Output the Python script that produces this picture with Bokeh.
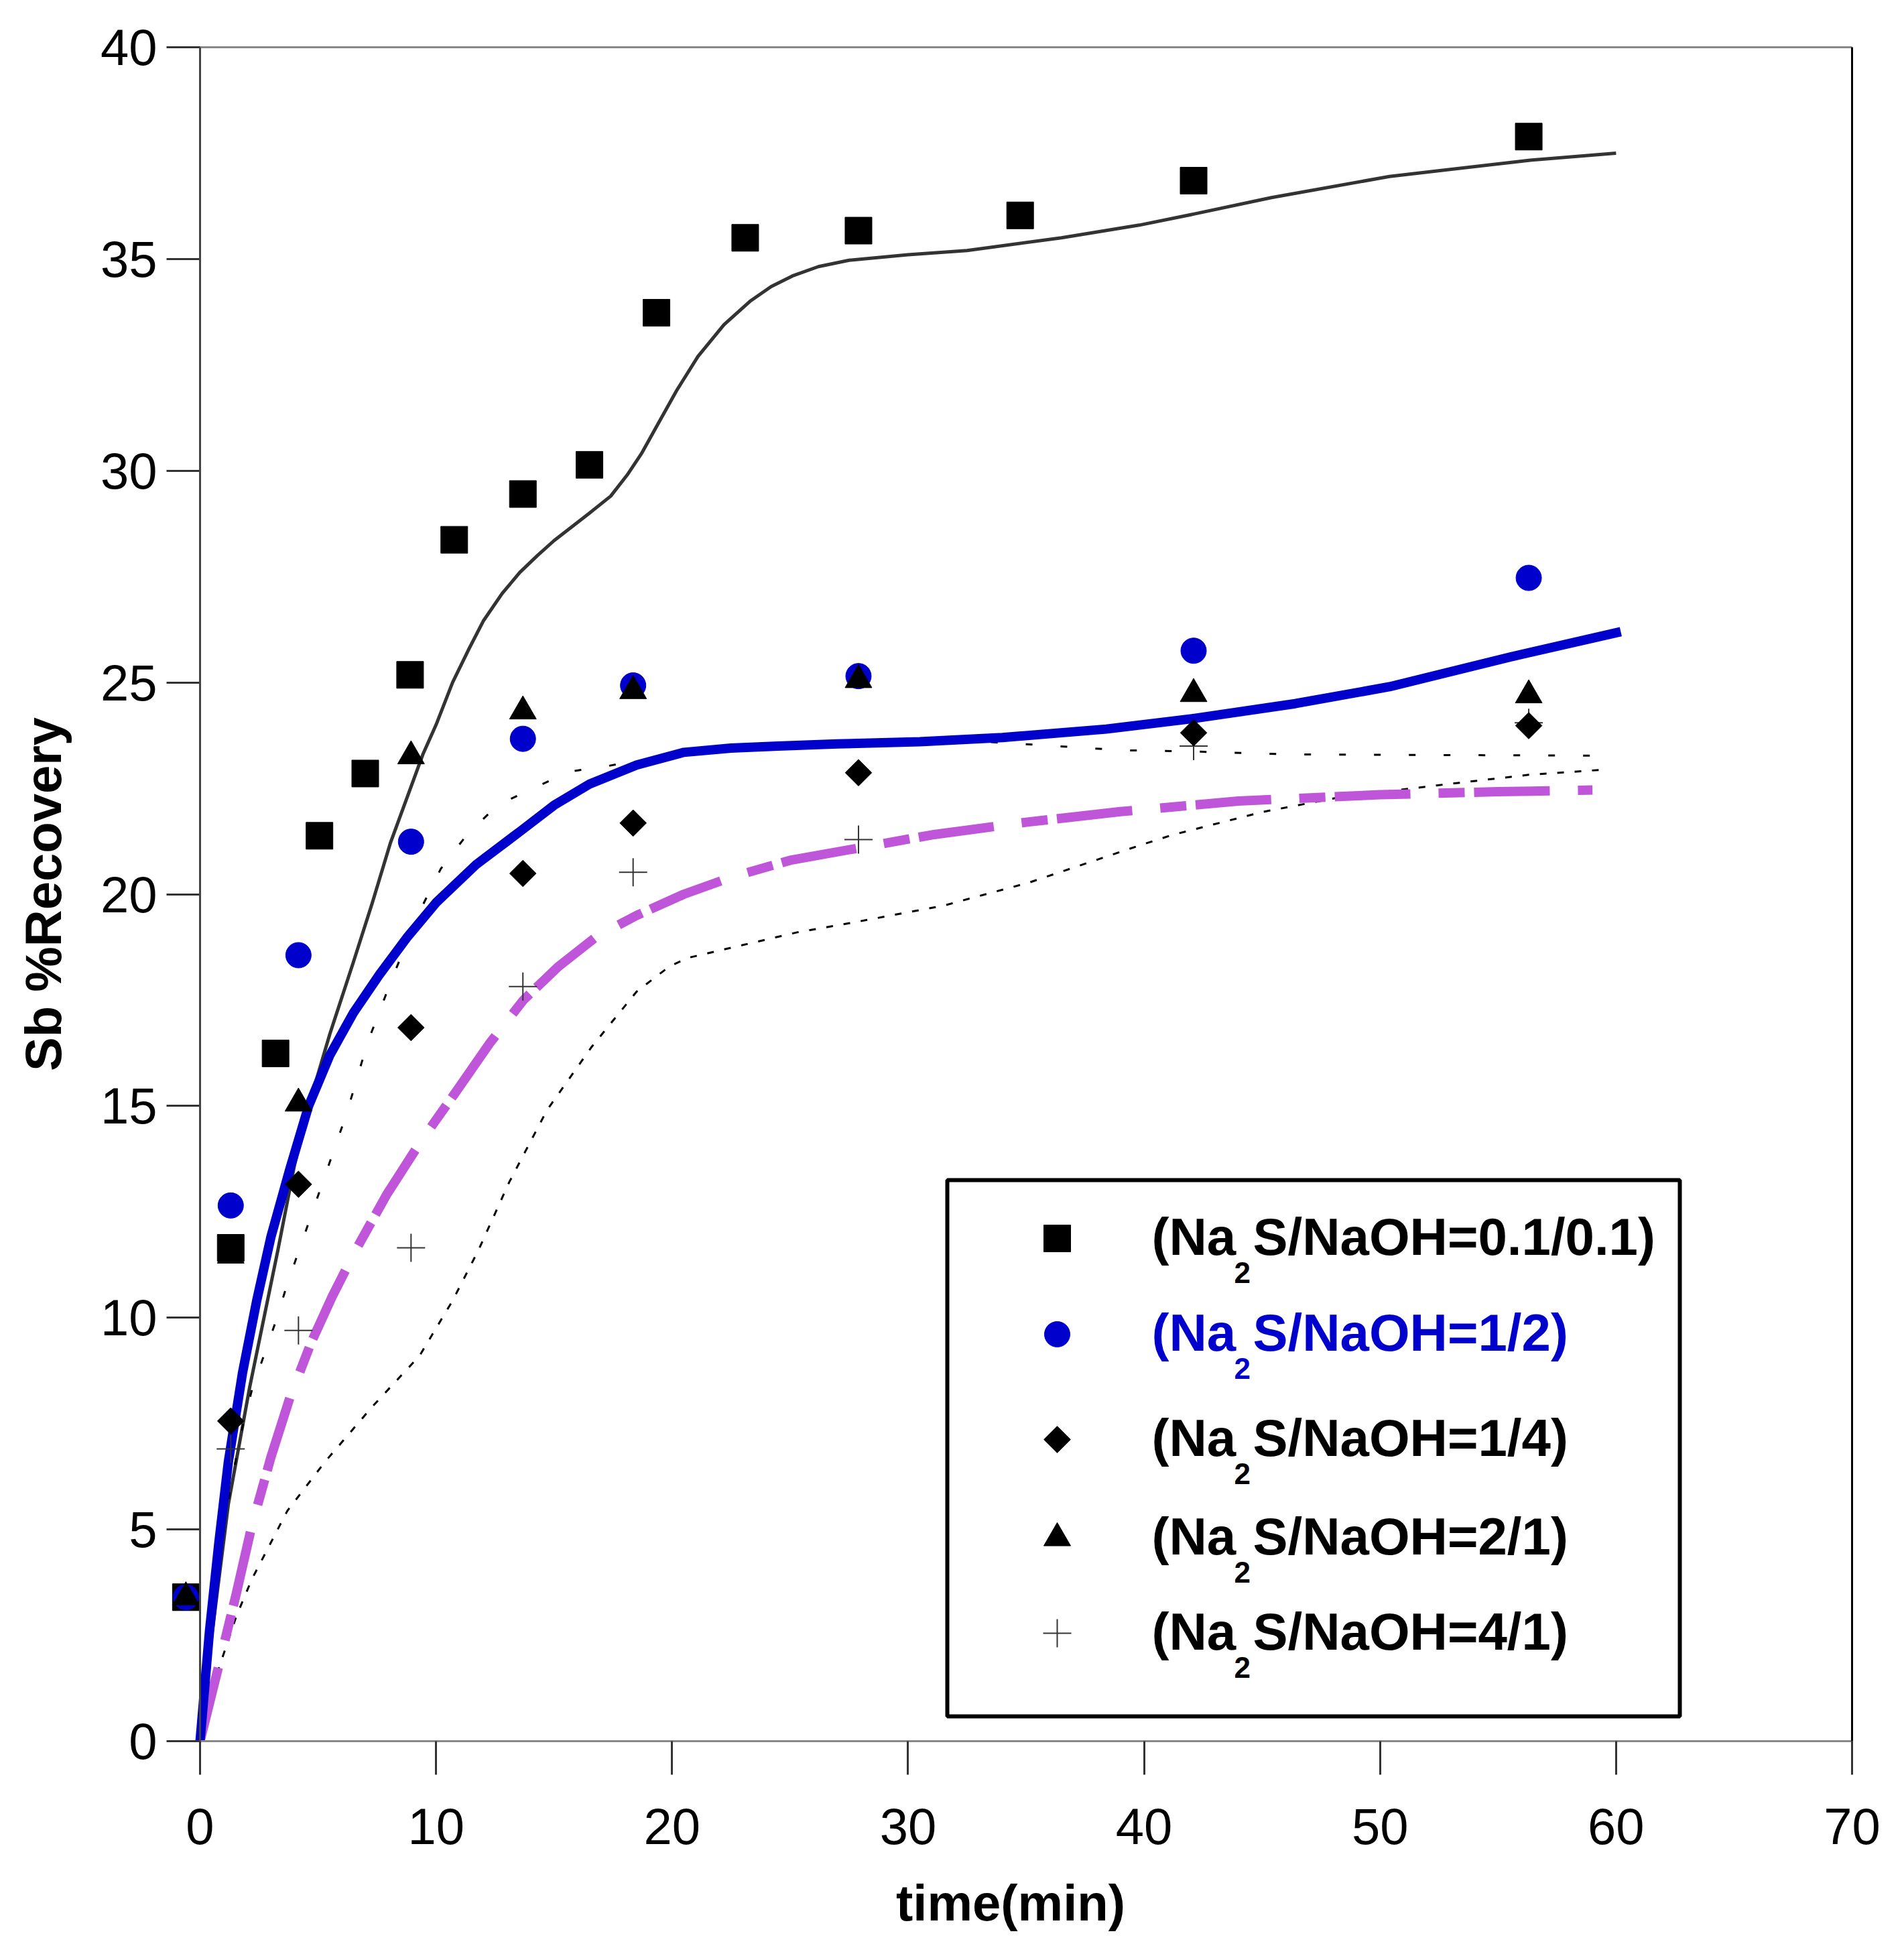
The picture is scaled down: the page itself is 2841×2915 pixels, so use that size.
import numpy as np
from bokeh.plotting import figure
from bokeh.models import Range1d, FixedTicker, LinearAxis, BoxAnnotation, Span
from bokeh.core.properties import value
from bokeh.embed import file_html
from bokeh.resources import INLINE

# ---- measured points (time in min, Sb % recovery) ----
t_01 = [-0.6, 1.3, 3.2, 5.06, 7.0, 8.9, 10.77, 13.68, 16.5, 19.34, 23.1, 27.9, 34.75, 42.1, 56.3]
r_01 = [3.4, 11.65, 16.24, 21.38, 22.85, 25.18, 28.37, 29.45, 30.14, 33.73, 35.5, 35.67, 36.03, 36.85, 37.89]

t_12 = [-0.6, 1.3, 4.17, 8.94, 13.68, 18.35, 27.9, 42.1, 56.3]
r_12 = [3.4, 12.65, 18.56, 21.24, 23.67, 24.93, 25.15, 25.75, 27.47]

t_14 = [1.3, 4.17, 8.94, 13.68, 18.35, 27.9, 42.1, 56.3]
r_14 = [7.56, 13.15, 16.85, 20.49, 21.68, 22.87, 23.81, 23.98]

t_21 = [-0.6, 1.3, 4.17, 8.94, 13.68, 18.35, 27.9, 42.1, 56.3]
r_21 = [3.4, 11.47, 15.06, 23.26, 24.32, 24.8, 25.06, 24.73, 24.7]

t_41 = [1.3, 4.17, 8.94, 13.68, 18.35, 27.9, 42.1, 56.3]
r_41 = [6.9, 9.7, 11.65, 17.82, 20.52, 21.29, 23.5, 24.05]

# ---- model curves ----
fit_01_t = [0, 0.5, 1.2, 2.1, 3.3, 4.0, 4.6, 5.5, 6.5, 7.3, 8.06, 9.44, 10.0, 10.7, 11.4, 12.0, 12.8, 13.55,
            14.3, 15.0, 16.5, 17.4, 18.1, 18.7, 19.3, 20.2, 21.1, 22.2, 23.3, 24.2, 25.1, 26.2, 27.5, 30.0,
            32.5, 36.5, 39.8, 42.1, 45.4, 50.4, 56.3, 60.0]
fit_01_r = [0, 2.5, 5.6, 8.35, 11.6, 13.6, 15.0, 16.7, 18.4, 19.8, 21.2, 23.3, 24.0, 25.0, 25.8, 26.45, 27.1, 27.6,
            28.0, 28.35, 29.0, 29.4, 29.9, 30.4, 31.0, 31.9, 32.7, 33.45, 34.0, 34.35, 34.6, 34.82, 34.97, 35.1,
            35.2, 35.5, 35.8, 36.06, 36.45, 36.95, 37.33, 37.5]

fit_12_t = [0, 0.4, 0.8, 1.2, 1.8, 2.4, 3.0, 3.8, 4.6, 5.5, 6.5, 7.6, 8.8, 10.0, 11.7, 13.6, 15.0,
            16.5, 18.5, 20.5, 22.5, 24.5, 27.0, 30.5, 34.0, 38.4, 42.1, 46.4, 50.4, 55.5, 60.2]
fit_12_r = [0, 2.6, 4.7, 6.6, 8.7, 10.4, 11.9, 13.5, 15.0, 16.2, 17.2, 18.1, 19.0, 19.8, 20.7, 21.5, 22.1,
            22.6, 23.05, 23.35, 23.45, 23.5, 23.55, 23.6, 23.7, 23.9, 24.15, 24.5, 24.9, 25.6, 26.2]

fit_a_t = [0, 0.4, 0.8, 1.5, 2.2, 3.0, 3.8, 4.7, 5.6, 6.6, 7.9, 9.4, 10.8, 12.3, 13.7, 15.2, 16.8,
           18.5, 20.5, 22.5, 25, 28, 31, 35, 39, 44, 50, 55, 59]
fit_a_r = [0, 0.9, 1.8, 3.4, 5.1, 6.7, 8.1, 9.4, 10.5, 11.6, 12.9, 14.2, 15.3, 16.5, 17.5, 18.3, 19.0,
           19.5, 20.0, 20.4, 20.8, 21.1, 21.4, 21.7, 21.95, 22.2, 22.35, 22.42, 22.46]

fit_b_t = [0, 0.37, 0.8, 1.25, 1.7, 2.2, 2.7, 3.2, 3.7, 4.2, 5.2, 6.2, 7.1, 8.2, 9.4, 10.2, 11.3,
           12.6, 14.1, 15.7, 17.0, 18.5, 22.0, 25.9, 30.0, 33.3, 39.1, 42.1, 46.4, 60.0]
fit_b_r = [0, 2.5, 4.2, 5.85, 7.2, 8.3, 9.1, 9.9, 10.8, 11.6, 13.2, 14.8, 16.5, 18.1, 19.7, 20.6, 21.4,
           22.1, 22.5, 22.9, 23.0, 23.15, 23.4, 23.6, 23.6, 23.6, 23.4, 23.37, 23.3, 23.27]

fit_c_t = [0, 0.8, 1.53, 2.2, 3.7, 5.3, 7.3, 9.3, 10.7, 11.8, 13.1, 14.7, 16.6, 18.5, 19.9, 20.7,
           23.0, 25.3, 27.85, 31.5, 35.1, 39.8, 41.2, 45.0, 48.4, 52.4, 56.3, 59.7]
fit_c_r = [0, 1.73, 2.94, 3.83, 5.44, 6.6, 7.9, 9.1, 10.4, 11.6, 13.2, 14.9, 16.4, 17.7, 18.3, 18.5,
           18.8, 19.1, 19.35, 19.73, 20.27, 21.15, 21.4, 21.94, 22.3, 22.57, 22.82, 22.95]

x_ticks = [0, 10, 20, 30, 40, 50, 60, 70]
y_ticks = [0, 5, 10, 15, 20, 25, 30, 35, 40]

legend_ratio = ["0.1/0.1", "1/2", "1/4", "2/1", "4/1"]

# ---- page geometry (px) ----
W, H = 2825, 2890
FRAME_L, FRAME_R, FRAME_T, FRAME_B = 252, 2763, 70, 2597
X0_PX = 298                      # where t = 0 sits
XS = (FRAME_R - X0_PX) / 70.0
YS = (FRAME_B - FRAME_T) / 40.0


def dx(px):
    return (px - X0_PX) / XS


def dy(py):
    return (FRAME_B - py) / YS


FONT = "Liberation Sans"
BLUE = "#0000CC"
PURPLE = "#BF55D9"

p = figure(width=W, height=H, output_backend="svg", toolbar_location=None,
           x_range=Range1d(dx(FRAME_L), 70), y_range=Range1d(0, 40),
           min_border_left=FRAME_L, min_border_right=W - FRAME_R,
           min_border_top=FRAME_T, min_border_bottom=H - FRAME_B)
p.grid.visible = False
p.outline_line_color = None
p.background_fill_color = "white"
p.border_fill_color = "white"

# axes
p.xaxis.ticker = FixedTicker(ticks=x_ticks)
p.yaxis.ticker = FixedTicker(ticks=y_ticks)
for ax in (p.xaxis, p.yaxis):
    ax.major_tick_line_color = "#333333"
    ax.major_tick_line_width = 3
    ax.minor_tick_out = 0
    ax.minor_tick_in = 0
    ax.major_label_text_font = FONT
    ax.major_label_text_font_size = "76px"
    ax.major_label_text_color = "black"
    ax.axis_label_text_font = FONT
    ax.axis_label_text_font_size = "76px"
    ax.axis_label_text_font_style = "bold"
    ax.axis_label_text_color = "black"

p.xaxis.axis_line_color = "#888888"
p.xaxis.axis_line_width = 3
p.xaxis.major_tick_out = 50
p.xaxis.major_tick_in = 0
p.xaxis.major_label_standoff = 50
p.xaxis.axis_label = "time(min)"
p.xaxis.axis_label_standoff = 42

# y ticks run from 4px left of the frame to the t = 0 line
p.yaxis.axis_line_color = None
p.yaxis.major_tick_out = 4
p.yaxis.major_tick_in = X0_PX - FRAME_L
p.yaxis.major_label_standoff = 14
p.yaxis.axis_label = "Sb %Recovery"
p.yaxis.axis_label_standoff = 40
p.add_layout(Span(location=0, dimension="height", line_color="#444444", line_width=3))

for side, col in (("above", "#888888"), ("right", "black")):
    ax = LinearAxis(ticker=FixedTicker(ticks=[]), axis_line_color=col, axis_line_width=3,
                    major_tick_out=0, major_tick_in=0, minor_tick_out=0, minor_tick_in=0,
                    major_label_text_font_size="0px")
    p.add_layout(ax, side)

# curves
p.line(fit_01_t, fit_01_r, line_color="#333333", line_width=5, line_join="round")
p.line(fit_b_t, fit_b_r, line_color="black", line_width=3, line_dash="10 42")
p.line(fit_c_t, fit_c_r, line_color="black", line_width=3, line_dash="10 16")
p.line(fit_a_t, fit_a_r, line_color=PURPLE, line_width=14, line_dash="113 42 39 14")
p.line(fit_12_t, fit_12_r, line_color=BLUE, line_width=14, line_join="round")

# markers
p.scatter(t_01, r_01, marker="square", size=40, color="black")
p.scatter(t_12, r_12, marker="circle", size=38, color=BLUE)
p.scatter(t_41, r_41, marker="cross", size=42, line_color="#333333", line_width=2)
p.scatter(t_14, r_14, marker="square", angle=np.pi / 4, size=28, color="black")
p.scatter(t_21, r_21, marker="triangle", size=40, color="black")

# legend drawn by hand (subscript 2 and coloured label)
p.add_layout(BoxAnnotation(left=dx(1413), right=dx(2506), top=dy(1760), bottom=dy(2560),
                           fill_color=None, line_color="black", line_alpha=1.0, line_width=6))
row_py = [1847, 1990, 2147, 2294, 2436]
row_col = ["black", BLUE, "black", "black", "black"]
leg_x = dx(1577)
p.scatter([leg_x], [dy(row_py[0])], marker="square", size=40, color="black")
p.scatter([leg_x], [dy(row_py[1])], marker="circle", size=38, color=BLUE)
p.scatter([leg_x], [dy(row_py[2])], marker="square", angle=np.pi / 4, size=28, color="black")
p.scatter([leg_x], [dy(row_py[3])], marker="triangle", size=40, color="black")
p.scatter([leg_x], [dy(row_py[4])], marker="cross", size=42, line_color="#333333", line_width=2)

base = [dy(py - 3) for py in row_py]
sub = [dy(py + 51) for py in row_py]
n = len(row_py)
p.text([dx(1718)] * n, base, text=["(Na"] * n, text_color=row_col, text_font=value(FONT),
       text_font_size="78px", text_font_style="bold", text_baseline="alphabetic")
p.text([dx(1841)] * n, sub, text=["2"] * n, text_color=row_col, text_font=value(FONT),
       text_font_size="44px", text_font_style="bold", text_baseline="alphabetic")
p.text([dx(1869)] * n, base, text=["S/NaOH=" + r + ")" for r in legend_ratio], text_color=row_col,
       text_font=value(FONT), text_font_size="78px", text_font_style="bold", text_baseline="alphabetic")

open("out.html", "w").write(file_html(p, INLINE))
